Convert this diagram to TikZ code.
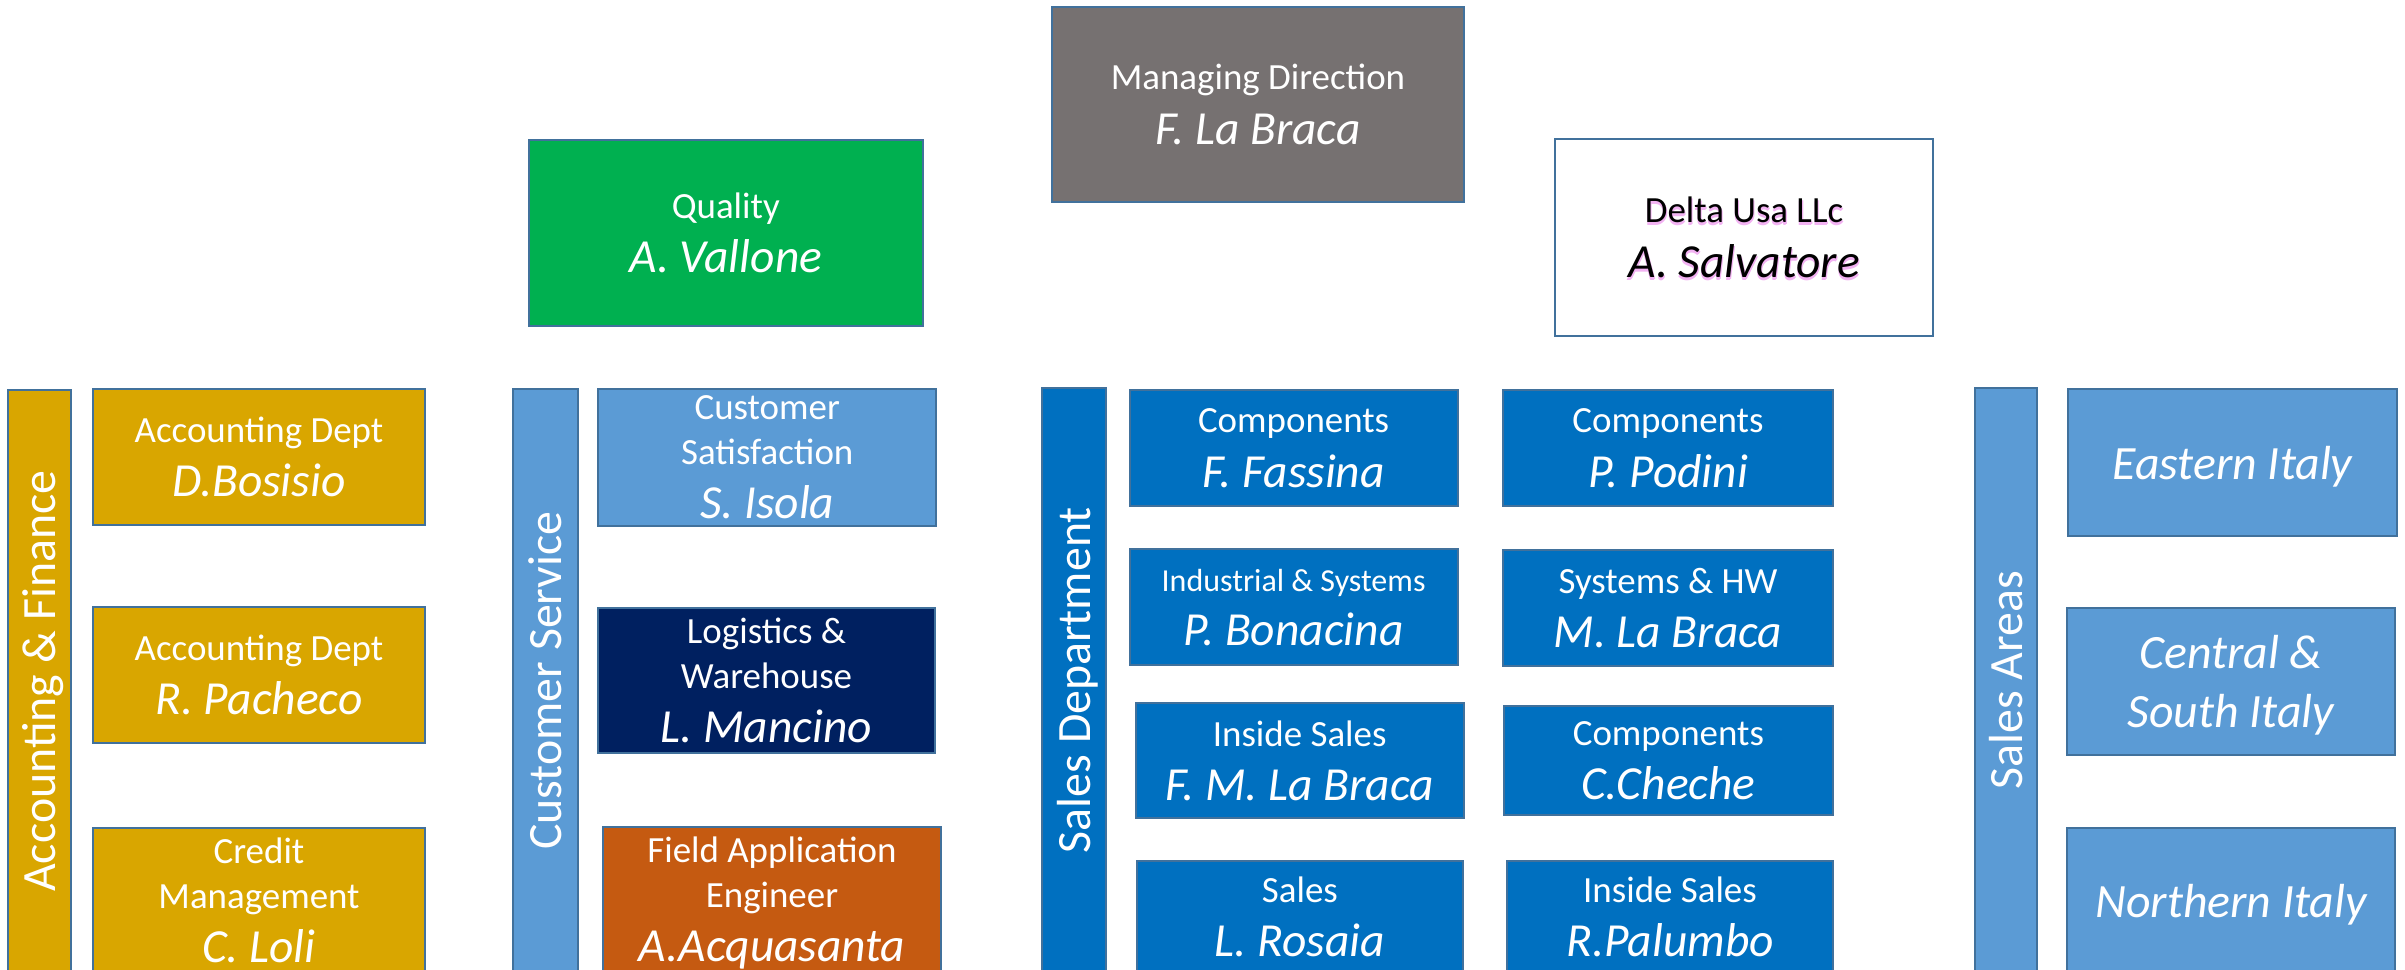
\documentclass[tikz,border=0pt]{standalone}
\usepackage{fontspec}
\setmainfont{Carlito}
\definecolor{edge}{RGB}{65,113,156}
\definecolor{gold}{RGB}{217,166,0}
\definecolor{lightblue}{RGB}{91,155,213}
\definecolor{salesblue}{RGB}{0,112,192}
\definecolor{navy}{RGB}{0,32,96}
\definecolor{rust}{RGB}{197,90,17}
\definecolor{qgreen}{RGB}{0,176,80}
\definecolor{mgrey}{RGB}{118,113,113}
\definecolor{glowpink}{RGB}{242,178,242}
\newcommand{\who}[1]{{\fontsize{13.5}{16}\selectfont\itshape #1}}
\newcommand{\glow}[1]{\rlap{\raisebox{-0.7pt}{\color{glowpink}#1}}\rlap{\hspace{0.3pt}\raisebox{-0.4pt}{\color{glowpink}#1}}#1}

\begin{document}
\begin{tikzpicture}[x=0.01cm,y=-0.01cm,
    box/.style={draw=edge,line width=0.02cm,align=center,text=white,inner sep=0pt,text depth=0pt,font=\fontsize{10.5}{12.8}\selectfont},
    bar/.style={box,rotate=90,font=\fontsize{13.6}{16}\selectfont},
    area/.style={box,fill=lightblue,font=\fontsize{13.6}{16.8}\selectfont\itshape}]
    \useasboundingbox (0,0) rectangle (2405,970);
    \clip (0,0) rectangle (2405,970);
    \node[box,fill=mgrey,minimum width=4.12cm,minimum height=1.95cm] (direction) at (1258,104.4) {Managing Direction\\[2.8pt]\who{F. La Braca}};
    \node[box,fill=qgreen,minimum width=3.94cm,minimum height=1.86cm] (quality) at (725.8,233) {Quality\\[2.6pt]\who{A. Vallone}};
    \node[box,fill=white,text=black,minimum width=3.78cm,minimum height=1.97cm] (deltausa) at (1744,237.5) {\glow{Delta Usa LLc}\\[2.8pt]\who{\glow{A. Salvatore}}};

    \node[bar,fill=gold,minimum width=5.82cm,minimum height=0.63cm] (finance) at (39.3,681) {Accounting \& Finance};
    \node[box,fill=gold,minimum width=3.32cm,minimum height=1.36cm] (accdept1) at (259,457) {Accounting Dept\\[2.6pt]\who{D.Bosisio}};
    \node[box,fill=gold,minimum width=3.32cm,minimum height=1.36cm] (accdept2) at (259,675) {Accounting Dept\\[2.6pt]\who{R. Pacheco}};
    \node[box,fill=gold,minimum width=3.32cm,minimum height=1.44cm] (credit) at (259,900) {Credit\\Management\\[2.6pt]\who{C. Loli}};

    \node[bar,fill=lightblue,minimum width=5.83cm,minimum height=0.65cm] (service) at (545.2,680.7) {Customer Service};
    \node[box,fill=lightblue,minimum width=3.38cm,minimum height=1.366cm] (satisfaction) at (767.3,457.2) {Customer\\Satisfaction\\[2.6pt]\who{S. Isola}};
    \node[box,fill=navy,minimum width=3.37cm,minimum height=1.447cm] (logistics) at (766.5,680.3) {Logistics \&\\Warehouse\\[2.6pt]\who{L. Mancino}};
    \node[box,fill=rust,minimum width=3.375cm,minimum height=1.45cm] (fae) at (772,899.5) {Field Application\\Engineer\\[2.6pt]\who{A.Acquasanta}};

    \node[bar,fill=salesblue,minimum width=5.836cm,minimum height=0.635cm] (salesdept) at (1073.8,680.2) {Sales Department};
    \node[box,fill=salesblue,minimum width=3.28cm,minimum height=1.16cm] (fassina) at (1293.6,448) {Components\\[2.6pt]\who{F. Fassina}};
    \node[box,fill=salesblue,minimum width=3.28cm,minimum height=1.16cm] (bonacina) at (1293.6,607) {{\fontsize{9.1}{11}\selectfont Industrial \& Systems}\\[2.6pt]\who{P. Bonacina}};
    \node[box,fill=salesblue,minimum width=3.28cm,minimum height=1.15cm] (fmlabraca) at (1299.7,760.5) {Inside Sales\\[2.6pt]\who{F. M. La Braca}};
    \node[box,fill=salesblue,minimum width=3.257cm,minimum height=1.11cm] (rosaia) at (1299.9,916.5) {Sales\\[2.6pt]\who{L. Rosaia}};
    \node[box,fill=salesblue,minimum width=3.29cm,minimum height=1.16cm] (podini) at (1668,448) {Components\\[2.6pt]\who{P. Podini}};
    \node[box,fill=salesblue,minimum width=3.29cm,minimum height=1.165cm] (mlabraca) at (1668,607.8) {Systems \& HW\\[2.6pt]\who{M. La Braca}};
    \node[box,fill=salesblue,minimum width=3.287cm,minimum height=1.086cm] (cheche) at (1668.4,760.3) {Components\\[2.6pt]\who{C.Cheche}};
    \node[box,fill=salesblue,minimum width=3.26cm,minimum height=1.11cm] (palumbo) at (1670,916.5) {Inside Sales\\[2.6pt]\who{R.Palumbo}};

    \node[bar,fill=lightblue,minimum width=5.836cm,minimum height=0.62cm] (areas) at (2006,680.2) {Sales Areas};
    \node[area,minimum width=3.284cm,minimum height=1.467cm] (eastern) at (2232.5,462.4) {Eastern Italy};
    \node[area,minimum width=3.283cm,minimum height=1.466cm] (central) at (2230.9,681.3) {Central \&\\South Italy};
    \node[area,minimum width=3.283cm,minimum height=1.454cm] (northern) at (2230.9,900.4) {Northern Italy};
\end{tikzpicture}
\end{document}
